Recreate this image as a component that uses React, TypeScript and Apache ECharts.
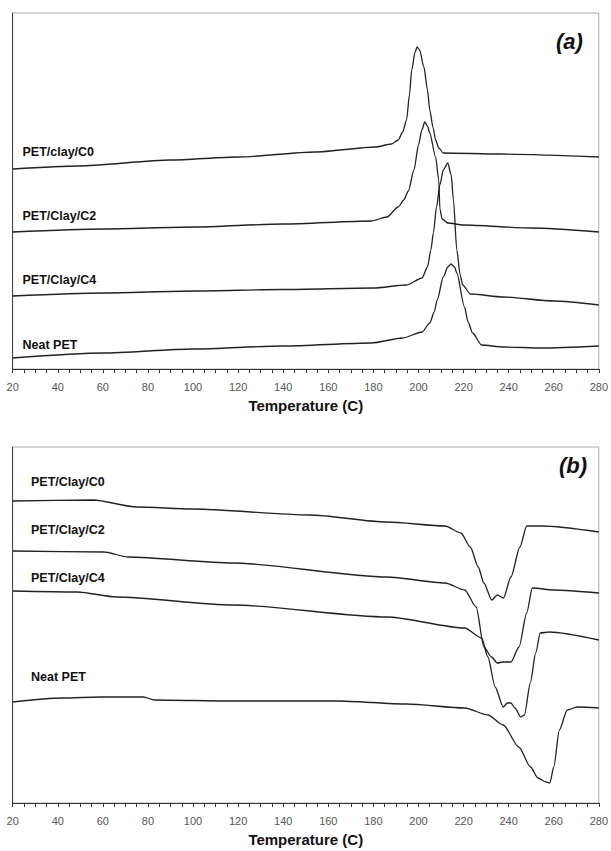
import React, { useEffect, useRef } from "react";
import * as echarts from "echarts";

// Temperature (C) and heat flow (arbitrary units)
const tempTicks = [20, 40, 60, 80, 100, 120, 140, 160, 180, 200, 220, 240, 260, 280];

// Panel (a): crystallization (cooling)
const aC0: [number, number][] = [
  [20, 200], [49, 203], [90, 209], [120, 212], [154, 217], [181, 222], [188, 225], [191, 229], [193, 237],
  [194.7, 249], [196, 274], [197, 299], [198.5, 317], [199.4, 322], [200.5, 319], [202.4, 302], [204, 279],
  [205, 259], [206.5, 241], [207.6, 229], [209, 221], [211, 216], [236, 215], [280, 212],
];
const aC2: [number, number][] = [
  [20, 137], [60, 140], [100, 142], [140, 145], [179, 148], [186, 152], [191, 162], [193.5, 169], [195.5, 178],
  [198, 199], [200, 224], [201.5, 239], [202.8, 247], [204, 243], [205, 236], [207.6, 212], [209, 189],
  [209.5, 160], [210.5, 150], [213, 146], [220, 144], [250, 141], [280, 137],
];
const aC4: [number, number][] = [
  [20, 73], [60, 76], [100, 78], [140, 79.5], [180, 81], [194.7, 84], [201.6, 91], [204, 102], [205.5, 119],
  [206.6, 136], [208, 162], [209.5, 184], [211, 199], [213, 206], [214.5, 194], [215.5, 169], [217, 119],
  [218.5, 94], [219.6, 84], [223, 75], [237.7, 72], [260, 68], [280, 64],
];
const aNeat: [number, number][] = [
  [20, 11], [60, 16], [100, 20], [140, 23], [179, 26], [193, 31], [201.6, 37], [205, 46], [207, 57],
  [208.3, 69], [211, 92], [213, 102], [214.4, 105], [216, 102], [217, 96], [220.4, 62], [222, 47],
  [224, 36], [228, 24], [237.6, 22], [255, 21], [280, 23],
];

// Panel (b): melting (heating)
const bC0: [number, number][] = [
  [20, 302], [55.6, 303], [75, 296], [100, 294], [151.6, 288], [186, 281], [211.8, 277], [218.8, 270],
  [223, 256], [226.5, 236], [229, 220], [232.5, 203], [235, 208], [237.7, 205], [241, 226], [245, 256],
  [248, 277], [255, 277], [280, 271],
];
const bC2: [number, number][] = [
  [20, 252], [60.7, 251], [71, 246], [117.5, 240], [186, 226], [211.8, 220], [220.5, 213], [225.6, 196],
  [229, 156], [232.4, 146], [235, 140], [237.5, 141], [241, 141], [244.6, 156], [248, 190], [250.5, 215],
  [260, 213], [280, 210],
];
const bC4: [number, number][] = [
  [20, 212], [48.7, 211], [66, 206], [117.5, 198], [186, 186], [220.5, 175], [228, 165], [230.8, 146],
  [234, 116], [237.6, 96], [239.4, 100], [241, 100], [242.8, 95], [245.4, 86], [247, 88], [249.6, 120],
  [252, 150], [254, 170], [258, 171], [280, 163],
];
const bNeat: [number, number][] = [
  [20, 101], [41.8, 105], [59, 106], [77.9, 106], [83, 103], [117.5, 102], [163.8, 102], [194.7, 99],
  [220.5, 95], [230.8, 88], [237.6, 78], [244.5, 56], [249.7, 36], [253, 25], [256.6, 21], [258.3, 20],
  [260, 36], [262.5, 73], [266, 93], [270.5, 96], [280, 95],
];

const labelsA = ["PET/clay/C0", "PET/Clay/C2", "PET/Clay/C4", "Neat PET"];
const labelsB = ["PET/Clay/C0", "PET/Clay/C2", "PET/Clay/C4", "Neat PET"];
const panelTags = ["(a)", "(b)"];
const xTitle = "Temperature (C)";

export default function App() {
  const ref = useRef<HTMLDivElement>(null);
  useEffect(() => {
    if (!ref.current) return;
    const chart = echarts.init(ref.current, null, { renderer: "svg" });
    const LEFT = 12.7;
    const WIDTH = 590;
    const grids = [
      { left: LEFT, top: 13, width: WIDTH, height: 356 },
      { left: LEFT, top: 447, width: WIDTH, height: 356 },
    ];
    const xAxisBase = (gi: number) => ({
      type: "value",
      gridIndex: gi,
      min: 20,
      max: 280,
      interval: 20,
      name: xTitle,
      nameLocation: "middle",
      nameGap: 29,
      nameTextStyle: { fontFamily: "Liberation Sans", fontWeight: "bold", fontSize: 15, color: "#111" },
      axisLine: { show: true, lineStyle: { color: "#333", width: 1 } },
      axisTick: { show: true, inside: false, length: 4, lineStyle: { color: "#333" } },
      minorTick: { show: true, splitNumber: 4, length: 4, lineStyle: { color: "#333" } },
      axisLabel: {
        show: true,
        margin: 12,
        fontFamily: "Liberation Sans",
        fontSize: 11,
        color: "#555",
        customValues: tempTicks,
        showMaxLabel: true,
        showMinLabel: true,
      },
      splitLine: { show: false },
    });
    const yAxisBase = (gi: number) => ({
      type: "value",
      gridIndex: gi,
      min: 0,
      max: 356,
      axisLine: { show: true, lineStyle: { color: "#444", width: 1 } },
      axisTick: { show: false },
      axisLabel: { show: false },
      splitLine: { show: false },
    });
    const lineSeries = (data: [number, number][], gi: number) => ({
      type: "line",
      xAxisIndex: gi,
      yAxisIndex: gi,
      data,
      showSymbol: false,
      smooth: 0.25,
      smoothMonotone: "x",
      lineStyle: { color: "#222", width: 1.3 },
      silent: true,
    });
    const labelStyle = { fontFamily: "Liberation Sans", fontWeight: "bold", fontSize: 12.5, fill: "#111" };
    const labelPosA = [152, 216, 280, 345];
    const labelPosB = [482, 530, 578, 677];
    const graphics: any[] = [];
    labelsA.forEach((t, i) =>
      graphics.push({ type: "text", left: 22.5, top: labelPosA[i] - 7, style: { text: t, ...labelStyle } })
    );
    labelsB.forEach((t, i) =>
      graphics.push({ type: "text", left: 31, top: labelPosB[i] - 7, style: { text: t, ...labelStyle } })
    );
    const tagStyle = { fontFamily: "Liberation Sans", fontWeight: "bold", fontStyle: "italic", fontSize: 22, fill: "#111" };
    graphics.push({ type: "text", left: 556, top: 30, style: { text: panelTags[0], ...tagStyle } });
    graphics.push({ type: "text", left: 559, top: 454, style: { text: panelTags[1], ...tagStyle } });

    chart.setOption({
      animation: false,
      backgroundColor: "#fff",
      grid: grids.map((g) => ({ ...g, show: true, borderColor: "#aaa", borderWidth: 1, backgroundColor: "transparent" })),
      xAxis: [xAxisBase(0), xAxisBase(1)],
      yAxis: [yAxisBase(0), yAxisBase(1)],
      series: [
        lineSeries(aC0, 0),
        lineSeries(aC2, 0),
        lineSeries(aC4, 0),
        lineSeries(aNeat, 0),
        lineSeries(bC0, 1),
        lineSeries(bC2, 1),
        lineSeries(bC4, 1),
        lineSeries(bNeat, 1),
      ],
      graphic: graphics,
    });
    return () => chart.dispose();
  }, []);
  return <div ref={ref} style={{ position: "absolute", left: 0, top: 0, width: 611, height: 851 }} />;
}
